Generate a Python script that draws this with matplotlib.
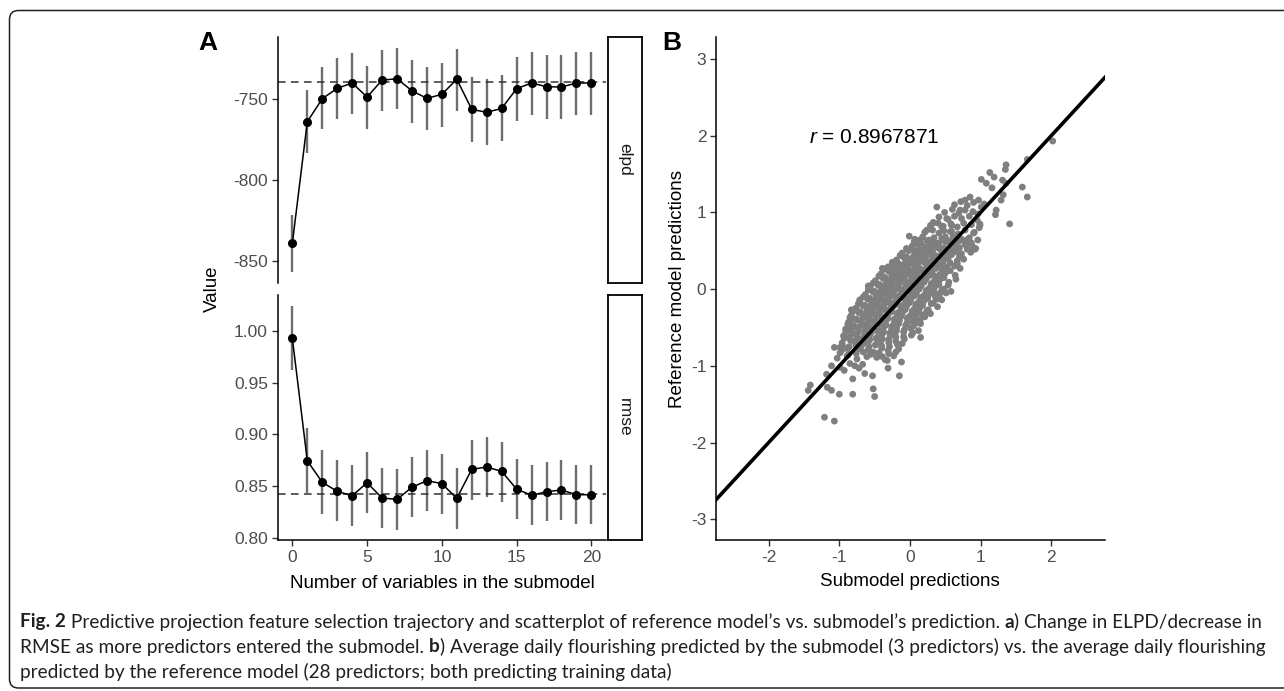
import matplotlib
matplotlib.use("Agg")
import matplotlib.pyplot as plt
from matplotlib.patches import FancyBboxPatch
from matplotlib.transforms import IdentityTransform

W, H = 1284, 691
plt.rcParams["font.family"] = ["Liberation Sans", "DejaVu Sans"]
plt.rcParams["mathtext.fontset"] = "custom"
plt.rcParams["mathtext.it"] = "Liberation Sans:italic"
plt.rcParams["mathtext.rm"] = "Liberation Sans"
plt.rcParams["axes.unicode_minus"] = False

# ---- Panel A: projection trajectory
n_vars = list(range(21))
elpd = [-839.1, -764.0, -749.8, -743.4, -740.1, -748.8, -738.3, -737.5, -744.9, -749.6, -747.1,
        -737.8, -756.4, -758.2, -755.8, -743.6, -740.1, -742.4, -742.6, -740.1, -740.1]
elpd_hi = [-821.6, -744.4, -730.4, -724.9, -721.8, -729.6, -720.0, -718.5, -725.9, -730.0, -727.8,
           -718.9, -736.2, -737.9, -735.2, -723.9, -720.8, -722.6, -722.8, -720.8, -721.0]
elpd_lo = [-856.6, -783.1, -768.7, -762.6, -759.5, -768.3, -757.6, -756.4, -764.6, -769.1, -767.1,
           -757.2, -776.3, -778.4, -775.7, -763.6, -759.9, -762.1, -762.6, -759.9, -759.9]
elpd_ref = -739.3

rmse = [0.9929, 0.8745, 0.8536, 0.8449, 0.8406, 0.8532, 0.8384, 0.8371, 0.8488, 0.8552, 0.8523,
        0.8381, 0.8662, 0.8684, 0.8642, 0.8471, 0.8410, 0.8445, 0.8462, 0.8416, 0.8416]
rmse_hi = [1.0242, 0.9058, 0.8846, 0.8749, 0.8703, 0.8826, 0.8677, 0.8665, 0.8784, 0.8846, 0.8813,
           0.8677, 0.8948, 0.8974, 0.8929, 0.8761, 0.8703, 0.8735, 0.8752, 0.8700, 0.8703]
rmse_lo = [0.9623, 0.8435, 0.8229, 0.8162, 0.8113, 0.8242, 0.8091, 0.8075, 0.8200, 0.8261, 0.8226,
           0.8084, 0.8365, 0.8391, 0.8348, 0.8178, 0.8123, 0.8159, 0.8174, 0.8130, 0.8133]
rmse_ref = 0.8426

# ---- Panel B: submodel vs reference predictions (row by row)
sub_pred = [
    # sparse points, upper right
    2.02, 1.66, 1.36, 1.35, 1.13, 1.19, 1.01, 1.08, 1.16, 1.31, 1.36, 1.59, 1.66, 1.41, 1.22, 1.21,
    1.32, 1.29, 0.99, 0.92, 0.80, 0.84, 0.65, 0.58, 0.42, 0.54, 0.38, 0.19, 0.38, -0.01, 0.33, -0.23, -0.39,
    # sparse points, lower left
    -1.21, -1.07, -1.44, -1.41, -1.17, -1.11, -1.00, -0.81, -0.52, -0.50, -0.81, -1.18, -1.11, -0.99,
    -0.93, -0.85, -0.78, -0.72, -0.67, -0.64, -0.53, -0.31, -0.32, -0.15, -0.12, -0.39, -0.20, -1.07,
    -0.99, -0.91, -0.94, -0.85, 0.15, -0.84, -0.85, -0.83, -0.75, -0.58, 0.31, 0.21, 0.09, 0.14,
    # upper middle
    0.52, 0.59, 0.71, 0.78, 0.85, 0.97, 1.01, 0.90, 0.99, 0.80, 0.87, 0.93, 0.71,
    0.33, 0.45, 0.57, 0.24, 0.14, 0.28, 0.38, 0.50, 0.66, 0.45, 0.33, 0.19, 0.09, 0.0, -0.09, -0.05,
    0.24, 0.52, 0.66, 0.09, -0.09, -0.24, -0.38, 0.33, -0.40, -0.59, -0.71,
    # dense core
    0.63, 0.72, 0.81, 0.90, 1.05,
    0.49, 0.60, 0.69, 0.78, 0.89, 0.96,
    0.41, 0.54, 0.63, 0.73, 0.84, 0.95,
    0.29, 0.40, 0.47, 0.58, 0.67, 0.76, 0.87, 0.98,
    0.21, 0.32, 0.41, 0.48, 0.59, 0.68, 0.78, 0.91,
    0.07, 0.18, 0.27, 0.34, 0.45, 0.54, 0.61, 0.73, 0.84, 0.96,
    0.03, 0.10, 0.21, 0.30, 0.37, 0.48, 0.57, 0.65, 0.78, 0.89,
    -0.11, -0.02, 0.09, 0.16, 0.27, 0.34, 0.45, 0.52, 0.64, 0.73, 0.86,
    -0.19, -0.08, 0.01, 0.10, 0.17, 0.28, 0.35, 0.46, 0.54, 0.67, 0.76,
    -0.31, -0.20, -0.13, -0.02, 0.07, 0.14, 0.25, 0.32, 0.43, 0.51, 0.63, 0.71,
    -0.41, -0.30, -0.23, -0.12, -0.05, 0.06, 0.13, 0.24, 0.31, 0.42, 0.50, 0.64,
    -0.49, -0.38, -0.31, -0.20, -0.13, -0.02, 0.05, 0.16, 0.23, 0.34, 0.42, 0.55,
    -0.56, -0.45, -0.38, -0.27, -0.20, -0.09, -0.02, 0.09, 0.16, 0.27, 0.35, 0.48,
    -0.63, -0.52, -0.45, -0.34, -0.27, -0.16, -0.09, 0.02, 0.09, 0.20, 0.28, 0.41, 0.51,
    -0.71, -0.60, -0.53, -0.42, -0.35, -0.24, -0.17, -0.06, 0.01, 0.12, 0.20, 0.33, 0.45,
    -0.77, -0.66, -0.59, -0.48, -0.41, -0.30, -0.23, -0.12, -0.05, 0.06, 0.14, 0.26, 0.39,
    -0.83, -0.72, -0.65, -0.54, -0.47, -0.36, -0.29, -0.18, -0.11, 0.00, 0.08, 0.21, 0.29,
    -0.87, -0.76, -0.69, -0.58, -0.51, -0.40, -0.33, -0.22, -0.15, -0.04, 0.04, 0.15,
    -0.91, -0.80, -0.73, -0.62, -0.55, -0.44, -0.37, -0.26, -0.19, -0.08, 0.01, 0.12,
    -0.93, -0.82, -0.75, -0.64, -0.57, -0.46, -0.39, -0.28, -0.21, -0.09, 0.02,
    -0.96, -0.84, -0.77, -0.66, -0.59, -0.48, -0.41, -0.30, -0.20, -0.11,
    -0.97, -0.88, -0.77, -0.70, -0.59, -0.52, -0.40, -0.31, -0.16,
    -1.03, -0.89, -0.75, -0.61, -0.47, -0.35, -0.23,
    # dense core, in-between rows
    0.06, 0.15, 0.24, 0.33, 0.41, 0.50, 0.60, 0.70, 0.81,
    -0.05, 0.05, 0.13, 0.23, 0.32, 0.41, 0.50, 0.60, 0.70, 0.81,
    -0.14, -0.05, 0.05, 0.13, 0.22, 0.31, 0.40, 0.49, 0.59, 0.70,
    -0.25, -0.16, -0.07, 0.03, 0.11, 0.20, 0.29, 0.38, 0.47, 0.57, 0.67,
    -0.35, -0.26, -0.17, -0.08, 0.01, 0.10, 0.19, 0.28, 0.37, 0.46, 0.57,
    -0.44, -0.35, -0.26, -0.17, -0.08, 0.01, 0.10, 0.19, 0.28, 0.38, 0.48,
    -0.52, -0.43, -0.34, -0.25, -0.16, -0.07, 0.02, 0.11, 0.20, 0.30, 0.41,
    -0.59, -0.50, -0.41, -0.32, -0.23, -0.14, -0.05, 0.04, 0.13, 0.23, 0.34, 0.45,
    -0.66, -0.57, -0.48, -0.39, -0.30, -0.21, -0.12, -0.03, 0.06, 0.15, 0.25, 0.36,
    -0.73, -0.64, -0.55, -0.46, -0.37, -0.28, -0.19, -0.10, -0.01, 0.08, 0.18, 0.30,
    -0.79, -0.70, -0.61, -0.52, -0.43, -0.34, -0.25, -0.16, -0.07, 0.03, 0.13, 0.24,
    -0.85, -0.76, -0.67, -0.58, -0.49, -0.40, -0.31, -0.22, -0.13, -0.04, 0.06, 0.17,
    -0.88, -0.79, -0.70, -0.61, -0.52, -0.43, -0.34, -0.25, -0.16, -0.06, 0.05,
    -0.91, -0.82, -0.73, -0.64, -0.55, -0.46, -0.37, -0.28, -0.19, -0.09, 0.04,
    -0.93, -0.84, -0.75, -0.66, -0.57, -0.48, -0.39, -0.30, -0.20, -0.08,
    -0.96, -0.86, -0.76, -0.67, -0.58, -0.49, -0.40, -0.29, -0.18,
    -0.99, -0.87, -0.76, -0.66, -0.55, -0.44, -0.30,
]
ref_pred = [
    1.93, 1.69, 1.62, 1.56, 1.52, 1.46, 1.43, 1.38, 1.32, 1.42, 1.38, 1.33, 1.20, 0.85, 1.03, 0.97,
    1.23, 1.16, 0.85, 0.52, 0.60, 0.60, 0.13, -0.03, -0.06, 0.05, -0.13, -0.34, 1.07, 0.69, 0.87, 0.28, 0.27,
    -1.67, -1.72, -1.32, -1.25, -1.28, -1.32, -1.37, -1.37, -1.30, -1.40, -1.17, -1.11, -1.00, -1.02,
    -1.06, -0.97, -1.00, -1.03, -0.98, -1.10, -1.13, -1.03, -0.93, -1.13, -0.95, -0.88, -0.82, -0.76,
    -0.76, -0.77, -0.61, -0.62, -0.63, -0.41, -0.53, -0.27, -0.27, 0.04, -0.03, -0.33, -0.44, -0.40,
    0.92, 0.83, 1.03, 1.16, 1.20, 1.16, 1.07, 0.73, 0.83, 0.64, 0.60, 0.53, 0.46,
    0.86, 0.81, 0.75, 0.77, 0.64, 0.55, 0.60, 0.68, 0.64, 0.46, 0.42, 0.46, 0.42, 0.38, 0.42, 0.29,
    0.29, 0.29, 0.31, 0.20, 0.16, 0.20, 0.16, 0.18, 0.18, 0.04, -0.14,
    1.10, 1.14, 1.09, 1.13, 1.11,
    1.00, 1.04, 0.99, 1.03, 1.01, 0.98,
    0.94, 0.91, 0.95, 0.92, 0.95, 0.90,
    0.83, 0.86, 0.82, 0.85, 0.81, 0.86, 0.84, 0.80,
    0.74, 0.77, 0.73, 0.76, 0.75, 0.72, 0.77, 0.74,
    0.65, 0.68, 0.64, 0.67, 0.66, 0.63, 0.68, 0.65, 0.67, 0.64,
    0.56, 0.59, 0.55, 0.58, 0.57, 0.54, 0.59, 0.56, 0.58, 0.55,
    0.47, 0.50, 0.46, 0.49, 0.48, 0.45, 0.50, 0.47, 0.49, 0.46, 0.48,
    0.38, 0.41, 0.37, 0.40, 0.39, 0.36, 0.41, 0.38, 0.40, 0.37, 0.39,
    0.29, 0.32, 0.28, 0.31, 0.30, 0.27, 0.32, 0.29, 0.31, 0.28, 0.30, 0.27,
    0.20, 0.23, 0.19, 0.22, 0.21, 0.18, 0.23, 0.20, 0.22, 0.19, 0.21, 0.18,
    0.11, 0.14, 0.10, 0.13, 0.12, 0.09, 0.14, 0.11, 0.13, 0.10, 0.12, 0.09,
    0.02, 0.05, 0.01, 0.04, 0.03, 0.00, 0.05, 0.02, 0.04, 0.01, 0.03, 0.00,
    -0.07, -0.04, -0.08, -0.05, -0.06, -0.09, -0.04, -0.07, -0.05, -0.08, -0.06, -0.09, -0.05,
    -0.16, -0.13, -0.17, -0.14, -0.15, -0.18, -0.13, -0.16, -0.14, -0.17, -0.15, -0.18, -0.14,
    -0.25, -0.22, -0.26, -0.23, -0.24, -0.27, -0.22, -0.25, -0.23, -0.26, -0.24, -0.27, -0.23,
    -0.34, -0.31, -0.35, -0.32, -0.33, -0.36, -0.31, -0.34, -0.32, -0.35, -0.33, -0.36, -0.32,
    -0.43, -0.40, -0.44, -0.41, -0.42, -0.45, -0.40, -0.43, -0.41, -0.44, -0.42, -0.45,
    -0.52, -0.49, -0.53, -0.50, -0.51, -0.54, -0.49, -0.52, -0.50, -0.53, -0.51, -0.54,
    -0.61, -0.58, -0.62, -0.59, -0.60, -0.63, -0.58, -0.61, -0.59, -0.62, -0.60,
    -0.70, -0.67, -0.71, -0.68, -0.69, -0.72, -0.67, -0.70, -0.68, -0.71,
    -0.80, -0.77, -0.81, -0.78, -0.79, -0.82, -0.77, -0.80, -0.78,
    -0.90, -0.87, -0.91, -0.88, -0.89, -0.92, -0.87,
    0.62, 0.60, 0.63, 0.61, 0.60, 0.62, 0.61, 0.63, 0.60,
    0.53, 0.51, 0.52, 0.54, 0.51, 0.53, 0.52, 0.51, 0.54, 0.52,
    0.44, 0.42, 0.43, 0.45, 0.42, 0.44, 0.43, 0.42, 0.45, 0.43,
    0.35, 0.33, 0.34, 0.36, 0.33, 0.35, 0.34, 0.33, 0.36, 0.34, 0.33,
    0.26, 0.24, 0.25, 0.27, 0.24, 0.26, 0.25, 0.24, 0.27, 0.25, 0.24,
    0.17, 0.15, 0.16, 0.18, 0.15, 0.17, 0.16, 0.15, 0.18, 0.16, 0.15,
    0.08, 0.06, 0.07, 0.09, 0.06, 0.08, 0.07, 0.06, 0.09, 0.07, 0.06,
    -0.01, -0.03, -0.02, 0.00, -0.03, -0.01, -0.02, -0.03, 0.00, -0.02, -0.03, -0.01,
    -0.10, -0.12, -0.11, -0.09, -0.12, -0.10, -0.11, -0.12, -0.09, -0.11, -0.12, -0.10,
    -0.19, -0.21, -0.20, -0.18, -0.21, -0.19, -0.20, -0.21, -0.18, -0.20, -0.21, -0.19,
    -0.28, -0.30, -0.29, -0.27, -0.30, -0.28, -0.29, -0.30, -0.27, -0.29, -0.30, -0.28,
    -0.37, -0.39, -0.38, -0.36, -0.39, -0.37, -0.38, -0.39, -0.36, -0.38, -0.39, -0.37,
    -0.46, -0.48, -0.47, -0.45, -0.48, -0.46, -0.47, -0.48, -0.45, -0.47, -0.48,
    -0.55, -0.57, -0.56, -0.54, -0.57, -0.55, -0.56, -0.57, -0.54, -0.56, -0.57,
    -0.64, -0.66, -0.65, -0.63, -0.66, -0.64, -0.65, -0.66, -0.63, -0.65,
    -0.73, -0.75, -0.74, -0.72, -0.75, -0.73, -0.74, -0.75, -0.72,
    -0.83, -0.85, -0.84, -0.82, -0.85, -0.83, -0.84,
]
r_value = 0.8967871

caption_lines = [
    [("Fig. 2", "bold"),
     (" Predictive projection feature selection trajectory and scatterplot of reference model\u2019s vs. "
      "submodel\u2019s prediction. ", "normal"),
     ("a", "bold"), (") Change in ELPD/decrease in", "normal")],
    [("RMSE as more predictors entered the submodel. ", "normal"), ("b", "bold"),
     (") Average daily flourishing predicted by the submodel (3 predictors) vs. the average daily flourishing",
      "normal")],
    [("predicted by the reference model (28 predictors; both predicting training data)", "normal")],
]


def px_rect(l, t, r, b):
    return [l / W, 1 - b / H, (r - l) / W, (b - t) / H]


def style_axis(ax, show_x=True):
    for s in ["top", "right"]:
        ax.spines[s].set_visible(False)
    if not show_x:
        ax.spines["bottom"].set_visible(False)
        ax.tick_params(axis="x", bottom=False, labelbottom=False)
    for s in ["left", "bottom"]:
        ax.spines[s].set_linewidth(1.1)
    ax.tick_params(direction="out", length=4.5, width=1.0, color="#333333",
                   labelsize=12.5, labelcolor="#4d4d4d", pad=2.5)


fig = plt.figure(figsize=(W / 100, H / 100), dpi=100)

# outer frame of the figure box
frame = FancyBboxPatch((9.5, H - 688), 1320, 688 - 10.5, boxstyle="round,pad=0,rounding_size=9",
                       transform=IdentityTransform(), fill=False, ec="#222222", lw=1.1)
fig.patches.append(frame)

# --- A, elpd
ax1 = fig.add_axes(px_rect(277.7, 37, 606.3, 283))
ax1.vlines(n_vars, elpd_lo, elpd_hi, color="#6e6e6e", lw=1.7, zorder=1)
ax1.axhline(elpd_ref, color="#333333", lw=1.1, ls=(0, (5, 3.5)), zorder=2)
ax1.plot(n_vars, elpd, color="black", lw=1.1, marker="o", ms=5.5, zorder=3)
ax1.set_xlim(-0.98, 21.0)
ax1.set_ylim(-863.6, -711.7)
ax1.set_yticks([-850, -800, -750])
style_axis(ax1, show_x=False)

# --- A, rmse
ax2 = fig.add_axes(px_rect(277.7, 295, 606.3, 540))
ax2.vlines(n_vars, rmse_lo, rmse_hi, color="#6e6e6e", lw=1.7, zorder=1)
ax2.axhline(rmse_ref, color="#333333", lw=1.1, ls=(0, (5, 3.5)), zorder=2)
ax2.plot(n_vars, rmse, color="black", lw=1.1, marker="o", ms=5.5, zorder=3)
ax2.set_xlim(-0.98, 21.0)
ax2.set_ylim(0.7978, 1.0348)
ax2.set_yticks([0.80, 0.85, 0.90, 0.95, 1.00])
ax2.set_yticklabels(["0.80", "0.85", "0.90", "0.95", "1.00"])
ax2.set_xticks([0, 5, 10, 15, 20])
style_axis(ax2)

# facet strips
for (top, bot), lab in [((36.5, 282.5), "elpd"), ((295, 539.5), "rmse")]:
    sax = fig.add_axes(px_rect(607.5, top, 641.5, bot))
    sax.set_xticks([])
    sax.set_yticks([])
    for s in sax.spines.values():
        s.set_linewidth(1.3)
    sax.text(0.5, 0.5, lab, rotation=-90, ha="center", va="center", fontsize=12.5,
             color="#1a1a1a", transform=sax.transAxes)

fig.text(212 / W, 1 - 288.5 / H, "Value", rotation=90, ha="center", va="center", fontsize=13.5)
fig.text(442 / W, 1 - 583 / H, "Number of variables in the submodel", ha="center", va="center",
         fontsize=13.5)
fig.text(198 / W, 1 - 31 / H, "A", ha="left", va="top", fontsize=19, weight="bold")

# --- B, scatter
axb = fig.add_axes(px_rect(716, 37, 1105, 540))
axb.scatter(sub_pred, ref_pred, s=24, color="#7f7f7f", edgecolors="none", zorder=1)
axb.axline((0, 0), slope=1, color="black", lw=2.6, zorder=2)
axb.set_xlim(-2.745, 2.76)
axb.set_ylim(-3.27, 3.286)
axb.set_xticks([-2, -1, 0, 1, 2])
axb.set_yticks([-3, -2, -1, 0, 1, 2, 3])
style_axis(axb)
axb.text(-0.51, 1.98, "$r$ = " + str(r_value), ha="center", va="center", fontsize=15)

fig.text(677 / W, 1 - 288.5 / H, "Reference model predictions", rotation=90, ha="center",
         va="center", fontsize=13.5)
fig.text(910 / W, 1 - 582 / H, "Submodel predictions", ha="center", va="center", fontsize=13.5)
fig.text(662 / W, 1 - 31 / H, "B", ha="left", va="top", fontsize=19, weight="bold")

# --- caption with mixed bold / regular pieces
renderer = fig.canvas.get_renderer()
cap_font = ["Lato", "DejaVu Sans"]


def seg_width(s, weight, size):
    a = fig.text(0, 0, "x" + s + "x", fontsize=size, weight=weight, family=cap_font)
    b = fig.text(0, 0, "xx", fontsize=size, weight=weight, family=cap_font)
    w = a.get_window_extent(renderer).width - b.get_window_extent(renderer).width
    a.remove()
    b.remove()
    return w


base = 12.0
line1 = sum(seg_width(s, w, base) for s, w in caption_lines[0])
cap_size = base * (1265 - 20) / line1
for i, segs in enumerate(caption_lines):
    x = 20.0
    y = 622 + 25 * i
    for s, w in segs:
        fig.text(x / W, 1 - y / H, s, fontsize=cap_size, weight=w, family=cap_font,
                 color="#231f20", ha="left", va="center")
        x += seg_width(s, w, cap_size)

fig.savefig("out.png", dpi=100)
